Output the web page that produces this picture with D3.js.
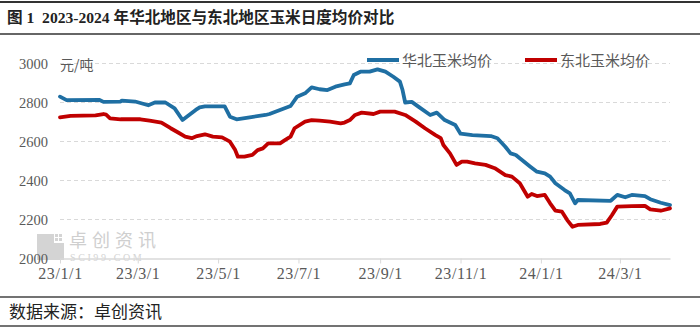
<!DOCTYPE html>
<html>
<head>
<meta charset="utf-8">
<script src="https://cdn.jsdelivr.net/npm/d3@7"></script>
<style>
  html, body { margin: 0; padding: 0; background: #fff; }
  svg { display: block; }
</style>
</head>
<body>
<svg id="chart" width="700" height="333"></svg>
<script>
// 华北玉米均价 (元/吨)
const northDates = ["2023-01-01","2023-01-06","2023-01-31","2023-02-03","2023-02-16","2023-02-17","2023-02-27","2023-03-09","2023-03-14","2023-03-22","2023-03-29","2023-04-04","2023-04-14","2023-04-17","2023-04-21","2023-05-06","2023-05-10","2023-05-15","2023-05-25","2023-06-06","2023-06-09","2023-06-17","2023-06-25","2023-06-30","2023-07-06","2023-07-11","2023-07-17","2023-07-23","2023-07-29","2023-08-05","2023-08-09","2023-08-12","2023-08-17","2023-08-24","2023-08-30","2023-09-05","2023-09-11","2023-09-16","2023-09-18","2023-09-20","2023-09-25","2023-09-30","2023-10-09","2023-10-14","2023-10-20","2023-10-28","2023-11-01","2023-11-10","2023-11-24","2023-11-29","2023-12-05","2023-12-09","2023-12-13","2023-12-16","2023-12-24","2023-12-29","2024-01-04","2024-01-08","2024-01-12","2024-01-19","2024-01-23","2024-01-27","2024-01-29","2024-02-23","2024-02-28","2024-03-05","2024-03-10","2024-03-20","2024-03-24","2024-04-01","2024-04-08"];
const northValues = [2830,2812,2813,2803,2805,2810,2805,2786,2800,2800,2770,2710,2762,2775,2780,2780,2727,2714,2724,2736,2741,2762,2782,2830,2847,2878,2868,2864,2881,2893,2898,2941,2958,2958,2970,2958,2932,2907,2864,2800,2803,2779,2736,2748,2710,2685,2640,2633,2628,2617,2573,2539,2531,2514,2471,2445,2437,2420,2386,2351,2334,2283,2300,2296,2326,2314,2326,2320,2304,2286,2274];

// 东北玉米均价 (元/吨)
const northeastDates = ["2023-01-01","2023-01-09","2023-01-28","2023-02-03","2023-02-05","2023-02-08","2023-02-16","2023-03-03","2023-03-10","2023-03-19","2023-03-26","2023-04-01","2023-04-06","2023-04-11","2023-04-15","2023-04-21","2023-04-27","2023-05-04","2023-05-10","2023-05-14","2023-05-16","2023-05-21","2023-05-27","2023-05-31","2023-06-04","2023-06-08","2023-06-17","2023-06-21","2023-06-25","2023-06-28","2023-07-06","2023-07-11","2023-07-17","2023-07-25","2023-08-02","2023-08-05","2023-08-09","2023-08-13","2023-08-18","2023-08-27","2023-09-01","2023-09-12","2023-09-20","2023-09-28","2023-10-05","2023-10-13","2023-10-17","2023-10-19","2023-10-24","2023-10-29","2023-11-02","2023-11-06","2023-11-12","2023-11-20","2023-11-27","2023-12-05","2023-12-10","2023-12-16","2023-12-22","2023-12-25","2023-12-29","2024-01-04","2024-01-08","2024-01-12","2024-01-17","2024-01-21","2024-01-25","2024-01-29","2024-02-15","2024-02-20","2024-02-24","2024-02-28","2024-03-10","2024-03-20","2024-03-24","2024-04-01","2024-04-08"];
const northeastValues = [2724,2731,2734,2741,2738,2719,2714,2714,2707,2697,2668,2645,2625,2617,2628,2637,2625,2621,2599,2556,2522,2522,2531,2556,2565,2590,2590,2608,2625,2668,2702,2710,2707,2702,2693,2697,2710,2736,2748,2741,2753,2753,2736,2702,2668,2633,2617,2582,2539,2480,2497,2497,2488,2480,2463,2428,2420,2386,2317,2331,2320,2326,2283,2245,2240,2197,2163,2172,2177,2184,2223,2266,2269,2270,2252,2245,2257];

const seriesNames = ["华北玉米均价", "东北玉米均价"];
const seriesColors = ["#1f6fa3", "#c00000"];
const yTicks = [2000, 2200, 2400, 2600, 2800, 3000];
const xTickDates = ["2023-01-01","2023-03-01","2023-05-01","2023-07-01","2023-09-01","2023-11-01","2024-01-01","2024-03-01"];
const xTickLabels = ["23/1/1","23/3/1","23/5/1","23/7/1","23/9/1","23/11/1","24/1/1","24/3/1"];
const titleText = "图 1  2023-2024 年华北地区与东北地区玉米日度均价对比";
const unitText = "元/吨";
const sourceText = "数据来源：卓创资讯";

const parse = d3.timeParse("%Y-%m-%d");
const series = [
  northDates.map((d, i) => ({ date: parse(d), value: northValues[i] })),
  northeastDates.map((d, i) => ({ date: parse(d), value: northeastValues[i] }))
];

const svg = d3.select("#chart");
const W = 700, H = 333;
const plot = { left: 60, right: 670, top: 63.5, bottom: 258.5 };

const serif = "'Liberation Serif', 'Noto Sans CJK SC', serif";
const cjk = "'Noto Sans CJK SC', sans-serif";
const grey = "#595959";

// title band
svg.append("line").attr("x1", 0).attr("x2", W).attr("y1", 2).attr("y2", 2)
  .attr("stroke", "#333").attr("stroke-width", 2);
svg.append("text").attr("x", 7).attr("y", 23)
  .attr("font-family", serif).attr("font-weight", "bold").attr("font-size", 15.6)
  .attr("fill", "#222").attr("xml:space", "preserve").text(titleText);
svg.append("line").attr("x1", 0).attr("x2", W).attr("y1", 34).attr("y2", 34)
  .attr("stroke", "#333").attr("stroke-width", 1.5);

const x = d3.scaleTime()
  .domain([parse("2023-01-01"), parse("2024-04-08")])
  .range([plot.left, plot.right]);
const y = d3.scaleLinear().domain([2000, 3000]).range([plot.bottom, plot.top]);

// watermark logo and name
const wm = svg.append("g").attr("fill", "#d4d4d4");
wm.append("rect").attr("x", 37).attr("y", 234).attr("width", 17).attr("height", 26);
wm.append("rect").attr("x", 54).attr("y", 243).attr("width", 10).attr("height", 17);
[[55,234],[59,234],[55,238],[59,238]].forEach(([cx, cy]) =>
  wm.append("rect").attr("x", cx).attr("y", cy).attr("width", 3).attr("height", 3));
wm.append("text").attr("x", 69).attr("y", 247).attr("font-family", cjk)
  .attr("font-size", 18).attr("letter-spacing", 5).attr("fill", "#cfcfcf").text("卓创资讯");
wm.append("text").attr("x", 70).attr("y", 261).attr("font-family", serif)
  .attr("font-size", 10).attr("letter-spacing", 2.6).attr("fill", "#d4d4d4").text("SCI99.COM");

// grid
svg.append("g").selectAll("line").data(yTicks.filter(t => t !== 2000)).join("line")
  .attr("x1", plot.left).attr("x2", plot.right)
  .attr("y1", d => y(d)).attr("y2", d => y(d))
  .attr("stroke", "#d9d9d9").attr("stroke-width", 1).attr("stroke-dasharray", "4,3");

// x axis
const xAxis = d3.axisBottom(x)
  .tickValues(xTickDates.map(parse))
  .tickFormat((d, i) => xTickLabels[i])
  .tickSizeInner(5).tickSizeOuter(0).tickPadding(4);
const gx = svg.append("g").attr("transform", `translate(0,${plot.bottom})`).call(xAxis);
gx.select(".domain").attr("stroke", "#d9d9d9").attr("stroke-width", 1.5);
gx.selectAll(".tick line").attr("stroke", "#d9d9d9");
gx.selectAll(".tick text").attr("font-family", serif).attr("font-size", 16)
  .attr("letter-spacing", 0.6).attr("fill", grey);

// y axis labels
const yAxis = d3.axisLeft(y).tickValues(yTicks).tickFormat(d3.format("d")).tickSize(0).tickPadding(12);
const gy = svg.append("g").attr("transform", `translate(${plot.left},0)`).call(yAxis);
gy.select(".domain").remove();
gy.selectAll(".tick text").attr("font-family", serif).attr("font-size", 14.5).attr("fill", grey);

svg.append("text").attr("x", 60).attr("y", 70).attr("font-family", cjk)
  .attr("font-size", 14).attr("fill", grey).text(unitText);

// price lines
const line = d3.line().x(d => x(d.date)).y(d => y(d.value)).curve(d3.curveLinear);
series.forEach((s, i) => {
  svg.append("path").datum(s).attr("d", line)
    .attr("fill", "none").attr("stroke", seriesColors[i])
    .attr("stroke-width", 3.8).attr("stroke-linejoin", "round").attr("stroke-linecap", "round");
});

// legend
const legendX = [367, 525];
seriesNames.forEach((name, i) => {
  const g = svg.append("g").attr("transform", `translate(${legendX[i]},60)`);
  g.append("line").attr("x1", 0).attr("x2", 32).attr("y1", 0).attr("y2", 0)
    .attr("stroke", seriesColors[i]).attr("stroke-width", 4);
  g.append("text").attr("x", 35).attr("y", 5.5).attr("font-family", cjk)
    .attr("font-size", 15).attr("fill", grey).text(name);
});

// source band
svg.append("line").attr("x1", 0).attr("x2", W).attr("y1", 297).attr("y2", 297)
  .attr("stroke", "#444").attr("stroke-width", 1.5);
svg.append("text").attr("x", 9).attr("y", 318).attr("font-family", cjk)
  .attr("font-size", 17).attr("fill", "#222").text(sourceText);
svg.append("line").attr("x1", 0).attr("x2", W).attr("y1", 326).attr("y2", 326)
  .attr("stroke", "#444").attr("stroke-width", 1.5);
</script>
</body>
</html>
